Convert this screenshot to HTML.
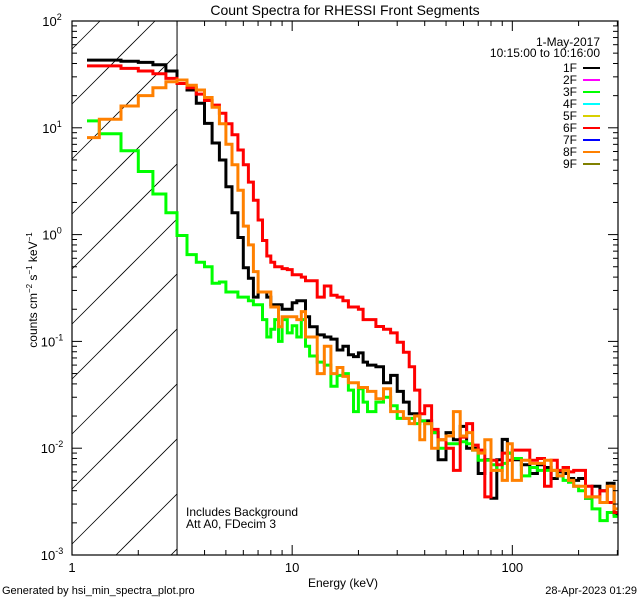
<!DOCTYPE html>
<html><head><meta charset="utf-8"><style>
html,body{margin:0;padding:0;background:#fff;overflow:hidden;width:640px;height:600px}
svg{display:block}
svg text{font-family:"Liberation Sans",sans-serif;fill:#000}
</style></head><body>
<svg id="chart" width="640" height="600" xmlns="http://www.w3.org/2000/svg">
<rect width="640" height="600" fill="#fff"/>
<text x="345" y="15" font-size="14" text-anchor="middle">Count Spectra for RHESSI Front Segments</text>
<text transform="translate(37,290) rotate(-90)" font-size="12" text-anchor="middle">counts cm<tspan font-size="8" dy="-5">−2</tspan><tspan dy="5"> s</tspan><tspan font-size="8" dy="-5">−1</tspan><tspan dy="5"> keV</tspan><tspan font-size="8" dy="-5">−1</tspan></text>
<text x="343" y="587" font-size="12" text-anchor="middle">Energy (keV)</text>
<text x="2" y="594" font-size="11">Generated by hsi_min_spectra_plot.pro</text>
<text x="637" y="594" font-size="11" text-anchor="end">28-Apr-2023 01:29</text>
<g id="hatch"></g>
<g id="series"></g>
<g id="axes"></g>
<text x="186" y="516" font-size="12">Includes Background</text>
<text x="186" y="528" font-size="12">Att A0, FDecim 3</text>
<text x="600" y="46" font-size="12" text-anchor="end">1-May-2017</text>
<text x="600" y="57" font-size="12" text-anchor="end">10:15:00 to 10:16:00</text>
<g id="legend"></g>
</svg>
<script>
const energies=[1.17,1.33,1.67,2,2.33,2.67,3,3.33,3.67,4,4.33,4.67,5,5.33,5.67,6,6.33,6.67,7,7.33,7.67,8,8.33,8.67,9,9.5,10,10.5,11,11.5,12,13,14,15,16,17,18,19,20,21,22,24,26,28,30,32,34,36,38,40,43,46,50,54,58,62,66,70,75,80,85,90,95,100,110,120,130,140,150,160,170,180,190,200,215,230,250,270,290,300];
const seg1F=[43,43,42,41,39,34,28,22.6,17,11,7.2,5.0,2.8,1.6,0.94,0.49,0.39,0.26,0.29,0.29,0.26,0.22,0.22,0.22,0.2,0.2,0.23,0.24,0.24,0.17,0.137,0.115,0.11,0.105,0.083,0.09,0.075,0.072,0.078,0.064,0.06,0.058,0.041,0.048,0.034,0.027,0.021,0.021,0.018,0.018,0.014,0.0078,0.014,0.012,0.016,0.010,0.010,0.0058,0.0078,0.0034,0.0078,0.0121,0.009,0.0078,0.007,0.0058,0.007,0.0066,0.0052,0.006,0.0058,0.0052,0.005,0.0052,0.0034,0.0044,0.004,0.0047,0.0024];
const seg3F=[11.6,8.8,6.1,3.9,2.4,1.6,0.98,0.65,0.55,0.5,0.35,0.36,0.29,0.29,0.26,0.26,0.24,0.22,0.22,0.16,0.11,0.13,0.16,0.1,0.16,0.12,0.14,0.11,0.16,0.09,0.073,0.064,0.06,0.038,0.048,0.05,0.035,0.022,0.036,0.027,0.022,0.027,0.03,0.025,0.019,0.019,0.019,0.017,0.018,0.017,0.014,0.01,0.011,0.011,0.0115,0.011,0.0096,0.0077,0.0077,0.007,0.0062,0.0072,0.009,0.008,0.0055,0.0066,0.0062,0.0062,0.0062,0.0055,0.005,0.0048,0.0044,0.004,0.0034,0.0027,0.0021,0.0025,0.0023];
const seg6F=[38,38,36,34,32,29,26,23.7,20.7,18,16.3,13.7,10.9,8.6,6.2,4.5,3.1,2.1,1.37,0.88,0.63,0.55,0.5,0.5,0.48,0.47,0.42,0.42,0.40,0.37,0.37,0.26,0.33,0.27,0.26,0.24,0.21,0.21,0.2,0.16,0.16,0.138,0.13,0.12,0.098,0.079,0.058,0.035,0.021,0.025,0.015,0.012,0.010,0.0062,0.0127,0.017,0.0107,0.0096,0.0035,0.0077,0.007,0.009,0.0077,0.0096,0.0096,0.0077,0.008,0.0044,0.0077,0.0062,0.0066,0.006,0.0062,0.0062,0.0044,0.0035,0.004,0.0031,0.0025];
const seg8F=[8.1,12,16,20,23.7,27,28,25,22.6,19.2,15.6,10.9,7,4.5,2.6,1.2,0.8,0.45,0.29,0.29,0.29,0.21,0.21,0.137,0.17,0.17,0.17,0.16,0.19,0.11,0.11,0.05,0.09,0.05,0.057,0.047,0.041,0.041,0.037,0.037,0.034,0.029,0.036,0.022,0.022,0.019,0.017,0.02,0.012,0.017,0.010,0.012,0.013,0.022,0.013,0.014,0.0096,0.009,0.012,0.0062,0.0062,0.005,0.011,0.005,0.0077,0.0072,0.0072,0.0077,0.0062,0.0055,0.0062,0.005,0.0044,0.0044,0.0035,0.0035,0.0031,0.0044,0.0027];
const legendLabels=["1F","2F","3F","4F","5F","6F","7F","8F","9F"];
const legendColors=["#000000","#ff00ff","#00ff00","#00ffff","#d8d000","#ff0000","#0000ff","#ff8000","#808000"];
const yTickExp=[-3,-2,-1,0,1,2];
const xTickLabels=["1","10","100"];

const NS="http://www.w3.org/2000/svg";
const L=72,R=618,T=21,B=555;
const xMin=1,xMax=302,yMin=1e-3,yMax=100;
function xs(e){return L+(R-L)*Math.log10(e/xMin)/Math.log10(xMax/xMin);}
function ys(v){return B-(B-T)*Math.log10(v/yMin)/Math.log10(yMax/yMin);}
function mk(tag,attrs,parent){const el=document.createElementNS(NS,tag);for(const k in attrs)el.setAttribute(k,attrs[k]);parent.appendChild(el);return el;}

const hatch=document.getElementById('hatch');
const X3=xs(3);
for(let c=-200;c<800;c+=55){
  const y0=84+c; // line: y = y0 - (x - L)
  let xa=L, ya=y0;
  if(ya>B){xa=L+(ya-B);ya=B;}
  let xb=X3, yb=y0-(X3-L);
  if(yb<T){xb=L+(y0-T);yb=T;}
  if(xa>=xb||ya<T||yb>B) continue;
  const ln=mk('line',{x1:xa,y1:ya,x2:xb,y2:yb,stroke:'#000','stroke-width':0.8},hatch);
  
  
}
const vl=mk('line',{x1:X3,y1:T,x2:X3,y2:B,stroke:'#000','stroke-width':1},hatch);



const sg=document.getElementById('series');
const seriesList=[[seg1F,'#000000','series-1f'],[seg3F,'#00ff00','series-3f'],[seg6F,'#ff0000','series-6f'],[seg8F,'#ff8000','series-8f']];
seriesList.forEach(([vals,col,name])=>{
  let d='';
  for(let i=0;i<vals.length;i++){
    const y=ys(vals[i]),x0=xs(energies[i]),x1=xs(energies[i+1]);
    d+=(i===0?'M':'L')+x0.toFixed(1)+','+y.toFixed(1)+'L'+x1.toFixed(1)+','+y.toFixed(1);
  }
  const p=mk('path',{d:d,fill:'none',stroke:col,'stroke-width':3,'stroke-linejoin':'miter'},sg);
  
  
});

const ax=document.getElementById('axes');
mk('rect',{x:L,y:T,width:R-L,height:B-T,fill:'none',stroke:'#000','stroke-width':1.2},ax);
for(let dec=1;dec<=100;dec*=10){
  for(let m=1;m<10;m++){
    const e=dec*m; if(e>xMax) break;
    const x=xs(e),len=m===1?10:5;
    mk('line',{x1:x,y1:B,x2:x,y2:B-len,stroke:'#000'},ax);
    mk('line',{x1:x,y1:T,x2:x,y2:T+len,stroke:'#000'},ax);
  }
}
xTickLabels.forEach((t,i)=>{
  const tx=mk('text',{x:xs(Math.pow(10,i)),y:B+17,'font-size':13,'text-anchor':'middle'},ax);
  tx.textContent=t;
  
  
});
yTickExp.forEach(k=>{
  for(let m=1;m<10;m++){
    const v=Math.pow(10,k)*m; if(v>yMax) break;
    const y=ys(v),len=m===1?10:5;
    mk('line',{x1:L,y1:y,x2:L+len,y2:y,stroke:'#000'},ax);
    mk('line',{x1:R,y1:y,x2:R-len,y2:y,stroke:'#000'},ax);
  }
  const tx=mk('text',{x:L-20,y:ys(Math.pow(10,k))+5,'font-size':13,'text-anchor':'middle'},ax);
  tx.innerHTML='10<tspan font-size="9" dy="-6">'+k+'</tspan>';
  
  
});

const lg=document.getElementById('legend');
legendLabels.forEach((lab,i)=>{
  const y=68+i*12;
  const t=mk('text',{x:577,y:y+4,'font-size':12,'text-anchor':'end'},lg);
  t.textContent=lab;
  
  
  const ln=mk('line',{x1:583,y1:y,x2:600,y2:y,stroke:legendColors[i],'stroke-width':2},lg);
  
  
});
</script>
</body></html>
